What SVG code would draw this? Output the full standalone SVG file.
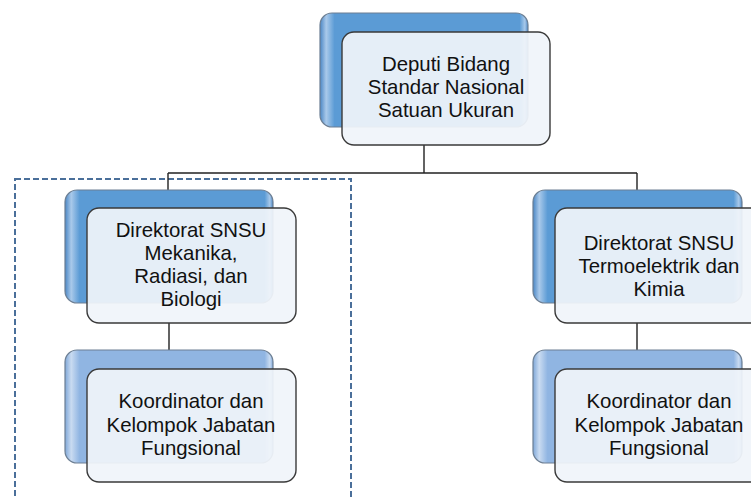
<svg xmlns="http://www.w3.org/2000/svg" width="751" height="499" viewBox="0 0 751 499">
<defs>
<linearGradient id="gDark" x1="0" y1="0" x2="1" y2="0">
<stop offset="0" stop-color="#4a86c4"/>
<stop offset="0.03" stop-color="#a9c9ea"/>
<stop offset="0.07" stop-color="#5b9bd5"/>
<stop offset="0.96" stop-color="#5b9bd5"/>
<stop offset="0.985" stop-color="#a9c9ea"/>
<stop offset="1" stop-color="#4a86c4"/>
</linearGradient>
<linearGradient id="gLight" x1="0" y1="0" x2="1" y2="0">
<stop offset="0" stop-color="#7fa7d8"/>
<stop offset="0.03" stop-color="#c9dbf1"/>
<stop offset="0.07" stop-color="#90b5e2"/>
<stop offset="0.96" stop-color="#90b5e2"/>
<stop offset="0.985" stop-color="#c9dbf1"/>
<stop offset="1" stop-color="#7fa7d8"/>
</linearGradient>
</defs>
<style>
.back{stroke:#6d7f93;stroke-width:1.2}
.dark{fill:url(#gDark)}
.light{fill:url(#gLight)}
.front{fill:#f0f4fa;fill-opacity:0.93;stroke:#3a3a3a;stroke-width:1.4}
.t{font-family:"Liberation Sans",Arial,sans-serif;font-size:20.4px;fill:#111;text-anchor:middle}
.c{stroke:#222;stroke-width:1.4;fill:none}
</style>
<rect width="751" height="499" fill="#ffffff"/>
<rect x="15" y="179" width="336" height="340" fill="none" stroke="#4a6f9a" stroke-width="2" stroke-dasharray="6,3"/>
<g id="connectors">
<path class="c" d="M424 145 V173 M168 173 H637 M168 173 V190 M637 173 V190 M169 323 V350 M637 323 V350"/>
</g>
<g id="node-deputi">
<rect class="back dark" x="320" y="13" width="208" height="114" rx="12"/>
<rect class="front" x="342" y="32" width="208" height="113" rx="12"/>
<text class="t" x="446" y="71">Deputi Bidang</text>
<text class="t" x="446" y="94">Standar Nasional</text>
<text class="t" x="446" y="117">Satuan Ukuran</text>
</g>
<g id="node-dir-mekanika">
<rect class="back dark" x="65" y="190" width="208" height="113" rx="12"/>
<rect class="front" x="87" y="208" width="209" height="115" rx="12"/>
<text class="t" x="191" y="237">Direktorat SNSU</text>
<text class="t" x="191" y="260">Mekanika,</text>
<text class="t" x="191" y="283">Radiasi, dan</text>
<text class="t" x="191" y="306">Biologi</text>
</g>
<g id="node-jf-left">
<rect class="back light" x="65" y="350" width="208" height="113" rx="12"/>
<rect class="front" x="87" y="369" width="209" height="113" rx="12"/>
<text class="t" x="191" y="408">Koordinator dan</text>
<text class="t" x="191" y="432">Kelompok Jabatan</text>
<text class="t" x="191" y="455">Fungsional</text>
</g>
<g id="node-dir-termo">
<rect class="back dark" x="533" y="190" width="209" height="113" rx="12"/>
<rect class="front" x="555" y="208" width="209" height="115" rx="12"/>
<text class="t" x="659" y="250">Direktorat SNSU</text>
<text class="t" x="659" y="273">Termoelektrik dan</text>
<text class="t" x="659" y="296">Kimia</text>
</g>
<g id="node-jf-right">
<rect class="back light" x="533" y="350" width="209" height="113" rx="12"/>
<rect class="front" x="555" y="369" width="209" height="113" rx="12"/>
<text class="t" x="659" y="408">Koordinator dan</text>
<text class="t" x="659" y="432">Kelompok Jabatan</text>
<text class="t" x="659" y="455">Fungsional</text>
</g>
</svg>
